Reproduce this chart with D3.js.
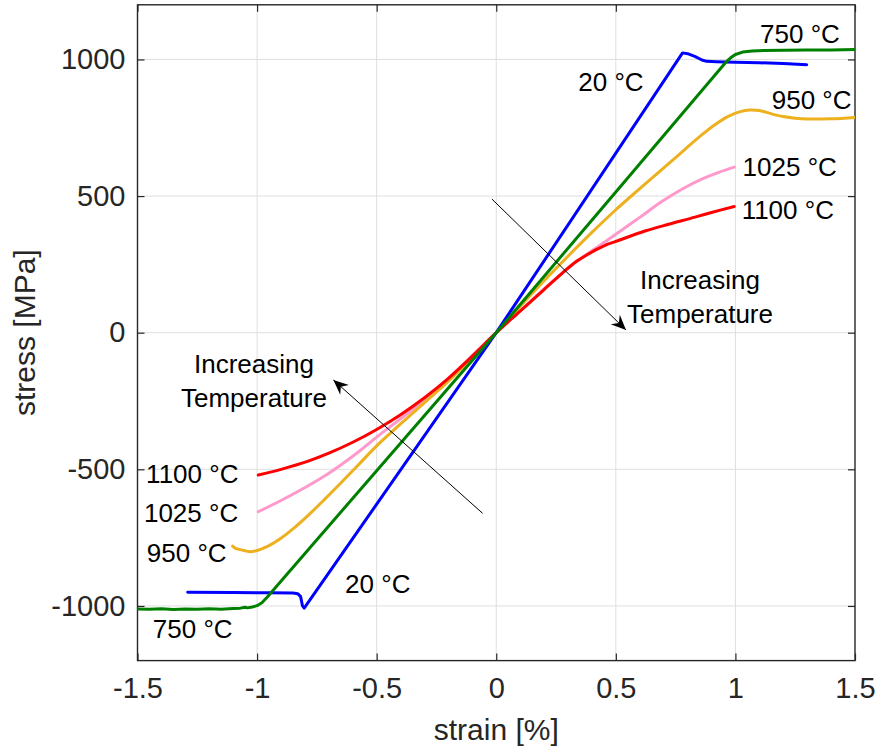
<!DOCTYPE html>
<html>
<head>
<meta charset="utf-8">
<script src="https://cdn.jsdelivr.net/npm/d3@7"></script>
<style>
  html, body { margin: 0; padding: 0; background: #fff; }
  svg { display: block; font-family: "Liberation Sans", Arial, sans-serif; }
</style>
</head>
<body>
<svg id="chart" width="877" height="748"></svg>
<script>
// Axis ticks
const strainTicks = [-1.5, -1, -0.5, 0, 0.5, 1, 1.5];
const stressTicks = [-1000, -500, 0, 500, 1000];

// Stress–strain curves, [strain %, stress MPa]
const curve20 = [
  [-1.29, -950], [-1.1, -951], [-0.95, -952], [-0.85, -953], [-0.83, -955],
  [-0.818, -966], [-0.81, -1000], [-0.803, -1008], [0, 0],
  [0.779, 1024], [0.80, 1021], [0.83, 1011], [0.86, 998], [0.88, 993],
  [0.92, 992], [1.0, 990], [1.1, 988], [1.2, 985], [1.298, 981]
];
const curve750 = [
  [-1.5, -1011], [-1.45, -1012], [-1.4, -1010], [-1.35, -1013], [-1.3, -1011],
  [-1.25, -1012], [-1.2, -1010], [-1.15, -1012], [-1.1, -1009], [-1.07, -1008],
  [-1.05, -1005], [-1.04, -1007], [-1.02, -1004], [-1.0, -999], [-0.98, -988],
  [-0.96, -970], [-0.5, -505], [0, 0], [0.5, 515], [0.96, 990], [0.98, 1006],
  [1.0, 1018], [1.03, 1027], [1.07, 1031], [1.12, 1033], [1.2, 1034],
  [1.3, 1035], [1.4, 1035], [1.5, 1036]
];
const curve950 = [
  [-1.102, -781], [-1.09, -789], [-1.075, -793], [-1.055, -797], [-1.035, -801],
  [-1.02, -801], [-1.0, -797], [-0.975, -789], [-0.95, -779], [-0.9, -752],
  [-0.85, -718], [-0.792, -673], [-0.72, -612], [-0.653, -553], [-0.58, -487],
  [-0.5, -414], [-0.4, -334], [-0.3, -256], [-0.2, -177], [-0.1, -90], [0, 0],
  [0.1, 96], [0.2, 190], [0.3, 280], [0.4, 367], [0.5, 450], [0.6, 527],
  [0.692, 597], [0.78, 664], [0.859, 724], [0.92, 765], [0.97, 792],
  [1.02, 809], [1.06, 815], [1.1, 813], [1.15, 801], [1.2, 791], [1.25, 785],
  [1.3, 782], [1.4, 783], [1.5, 788]
];
const curve1025 = [
  [-0.995, -655], [-0.9, -614], [-0.792, -563], [-0.7, -514], [-0.653, -486],
  [-0.57, -432], [-0.5, -382], [-0.4, -315], [-0.3, -246], [-0.2, -167],
  [-0.1, -84], [0, 0], [0.1, 80], [0.2, 160], [0.3, 236], [0.35, 270],
  [0.4, 300], [0.45, 330], [0.5, 360], [0.6, 422], [0.692, 480],
  [0.78, 527], [0.859, 562], [0.93, 587], [0.995, 606]
];
const curve1100 = [
  [-0.995, -521], [-0.9, -500], [-0.792, -472], [-0.7, -441], [-0.6, -401],
  [-0.5, -354], [-0.4, -300], [-0.3, -238], [-0.2, -167], [-0.1, -86], [0, 0],
  [0.1, 79], [0.2, 158], [0.274, 216], [0.33, 258], [0.38, 285], [0.42, 305],
  [0.455, 320], [0.5, 334], [0.622, 372], [0.7, 392], [0.831, 423],
  [0.9, 440], [0.995, 462]
];

// Curve labels: text and anchor point in data units
const curveLabels = [
  ["750 °C", 1.103, 1060], ["20 °C", 0.343, 886], ["950 °C", 1.152, 818],
  ["1025 °C", 1.030, 575], ["1100 °C", 1.026, 416],
  ["1100 °C", -1.464, -551], ["1025 °C", -1.473, -694], ["950 °C", -1.461, -840],
  ["20 °C", -0.632, -954], ["750 °C", -1.436, -1116]
];

// "Increasing Temperature" notes: centre x, baseline y of first line
const notes = [[0.852, 159], [-1.013, -146]];
// Arrows: [from, to] in data units
const arrows = [
  [[-0.018, 489], [0.5425, 10]],
  [[-0.057, -661], [-0.681, -173]]
];

const svg = d3.select("#chart");
const W = 877, H = 748;
const plot = { left: 137.5, right: 855, top: 4.8, bottom: 660.6 };

const x = d3.scaleLinear().domain([-1.5, 1.5]).range([plot.left, plot.right]);
const y = d3.scaleLinear().domain([-1200, 1200]).range([plot.bottom, plot.top]);

svg.append("rect").attr("width", W).attr("height", H).attr("fill", "#fff");

// Grid
const grid = svg.append("g").attr("stroke", "#dfdfdf").attr("stroke-width", 1);
grid.selectAll("line.gx").data(strainTicks.slice(1, -1)).join("line")
  .attr("x1", d => x(d)).attr("x2", d => x(d))
  .attr("y1", plot.top).attr("y2", plot.bottom);
grid.selectAll("line.gy").data(stressTicks).join("line")
  .attr("x1", plot.left).attr("x2", plot.right)
  .attr("y1", d => y(d)).attr("y2", d => y(d));

// Axes with inward ticks on all four sides
const tickLen = 7;
const axisColor = "#262626";
const fmt = d => String(d);

function styleAxis(g) {
  g.select(".domain").remove();
  g.selectAll(".tick line").attr("stroke", axisColor).attr("stroke-width", 1.2);
  g.selectAll(".tick text").attr("fill", axisColor)
    .attr("font-family", "Liberation Sans, Arial, sans-serif").attr("font-size", 29);
}

svg.append("g").attr("transform", `translate(0,${plot.bottom})`)
  .call(d3.axisBottom(x).tickValues(strainTicks).tickFormat(fmt)
    .tickSizeInner(-tickLen).tickSizeOuter(0).tickPadding(17))
  .call(styleAxis);
svg.append("g").attr("transform", `translate(0,${plot.top})`)
  .call(d3.axisTop(x).tickValues(strainTicks).tickFormat("").tickSizeInner(-tickLen).tickSizeOuter(0))
  .call(styleAxis);
svg.append("g").attr("transform", `translate(${plot.left},0)`)
  .call(d3.axisLeft(y).tickValues(stressTicks).tickFormat(fmt)
    .tickSizeInner(-tickLen).tickSizeOuter(0).tickPadding(12))
  .call(styleAxis);
svg.append("g").attr("transform", `translate(${plot.right},0)`)
  .call(d3.axisRight(y).tickValues(stressTicks).tickFormat("").tickSizeInner(-tickLen).tickSizeOuter(0))
  .call(styleAxis);

// Box
svg.append("rect")
  .attr("x", plot.left).attr("y", plot.top)
  .attr("width", plot.right - plot.left).attr("height", plot.bottom - plot.top)
  .attr("fill", "none").attr("stroke", axisColor).attr("stroke-width", 1.4);

// Axis titles
svg.append("text").attr("x", (plot.left + plot.right) / 2).attr("y", 740)
  .attr("text-anchor", "middle").attr("font-size", 30).attr("fill", axisColor)
  .text("strain [%]");
svg.append("text").attr("transform", `translate(35,${(plot.top + plot.bottom) / 2}) rotate(-90)`)
  .attr("text-anchor", "middle").attr("font-size", 30).attr("fill", axisColor)
  .text("stress [MPa]");

// Curves
const series = [
  { data: curve1025, color: "#ff99cc", curve: d3.curveCatmullRom },
  { data: curve950, color: "#edb120", curve: d3.curveCatmullRom },
  { data: curve1100, color: "#ff0000", curve: d3.curveCatmullRom },
  { data: curve20, color: "#0000ff", curve: d3.curveLinear },
  { data: curve750, color: "#008000", curve: d3.curveLinear }
];
const clip = svg.append("clipPath").attr("id", "plotclip").append("rect")
  .attr("x", plot.left).attr("y", plot.top)
  .attr("width", plot.right - plot.left).attr("height", plot.bottom - plot.top);
const lines = svg.append("g").attr("clip-path", "url(#plotclip)");
series.forEach(s => {
  lines.append("path").datum(s.data)
    .attr("fill", "none").attr("stroke", s.color).attr("stroke-width", 3)
    .attr("stroke-linejoin", "round").attr("stroke-linecap", "round")
    .attr("d", d3.line().x(d => x(d[0])).y(d => y(d[1])).curve(s.curve));
});

// Curve labels
svg.append("g").selectAll("text").data(curveLabels).join("text")
  .attr("x", d => x(d[1])).attr("y", d => y(d[2]))
  .attr("font-size", 26).attr("fill", "#000")
  .text(d => d[0]);

// Arrows with notched heads
const defs = svg.append("defs");
defs.append("marker").attr("id", "head")
  .attr("viewBox", "-16 -8 18 16").attr("refX", 0).attr("refY", 0)
  .attr("markerWidth", 18).attr("markerHeight", 16)
  .attr("markerUnits", "userSpaceOnUse").attr("orient", "auto")
  .append("path").attr("d", "M0,0 L-15,-6.5 L-10,0 L-15,6.5 Z").attr("fill", "#000");
svg.append("g").selectAll("line").data(arrows).join("line")
  .attr("x1", d => x(d[0][0])).attr("y1", d => y(d[0][1]))
  .attr("x2", d => x(d[1][0])).attr("y2", d => y(d[1][1]))
  .attr("stroke", "#000").attr("stroke-width", 1)
  .attr("marker-end", "url(#head)");

// Notes
const noteG = svg.append("g").attr("font-size", 26).attr("fill", "#000").attr("text-anchor", "middle");
notes.forEach(n => {
  const t = noteG.append("text").attr("x", x(n[0])).attr("y", y(n[1]));
  t.append("tspan").attr("x", x(n[0])).text("Increasing");
  t.append("tspan").attr("x", x(n[0])).attr("dy", 34).text("Temperature");
});
</script>
</body>
</html>
